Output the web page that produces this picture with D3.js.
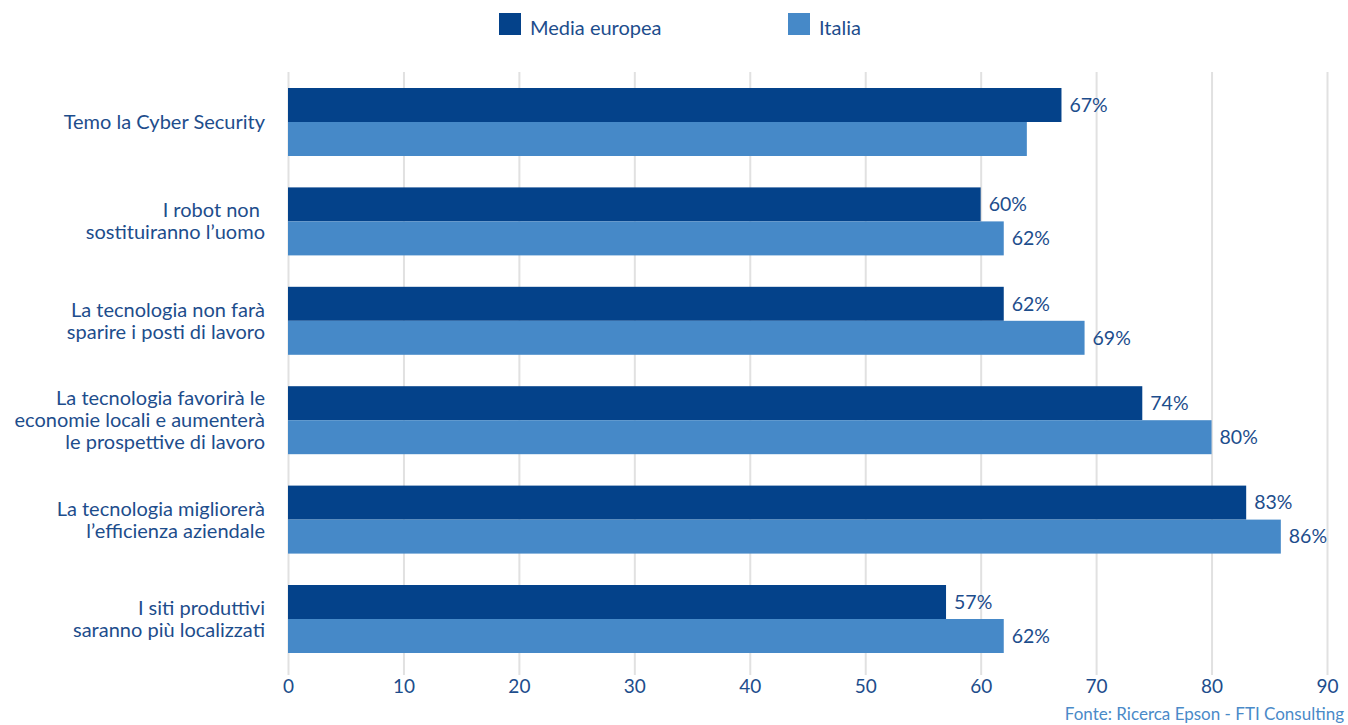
<!DOCTYPE html>
<html>
<head>
<meta charset="utf-8">
<script src="https://cdn.jsdelivr.net/npm/d3@7"></script>
<style>
  body { margin: 0; background: #fff; }
  svg { display: block; font-family: Lato, "Noto Sans", sans-serif; }
</style>
</head>
<body>
<svg id="chart" width="1348" height="725"></svg>
<script>
// categories (one string per line of the label)
const categories = [
  ["Temo la Cyber Security"],
  ["I robot non ", "sostituiranno l\u2019uomo"],
  ["La tecnologia non far\u00e0", "sparire i posti di lavoro"],
  ["La tecnologia favorir\u00e0 le", "economie locali e aumenter\u00e0", "le prospettive di lavoro"],
  ["La tecnologia migliorer\u00e0", "l\u2019efficienza aziendale"],
  ["I siti produttivi", "saranno pi\u00f9 localizzati"]
];
const mediaEuropea = [67, 60, 62, 74, 83, 57];
const italia = [64, 62, 69, 80, 86, 62];
const italiaShowLabel = [false, true, true, true, true, true];
const seriesNames = ["Media europea", "Italia"];
const xTicks = [0, 10, 20, 30, 40, 50, 60, 70, 80, 90];
const source = "Fonte: Ricerca Epson - FTI Consulting";

const colors = ["#04428a", "#4689c8"];
const textColor = "#1d4d8c";

let svg = d3.select("#chart");

let x = d3.scaleLinear().domain([0, 90]).range([288, 1327]);
let y = d3
  .scaleBand()
  .domain(d3.range(categories.length))
  .range([72, 669])
  .paddingInner(0.316)
  .paddingOuter(0.161);
let sub = d3
  .scaleBand()
  .domain([0, 1])
  .range([0, y.bandwidth()]);

// grid + axis
let axis = d3
  .axisBottom(x)
  .tickValues(xTicks)
  .tickSize(-(675 - 72))
  .tickPadding(4);
let gAxis = svg
  .append("g")
  .attr("transform", "translate(0,675)")
  .call(axis);
gAxis.select(".domain").remove();
gAxis.selectAll(".tick line").attr("stroke", "#e1e1e1").attr("stroke-width", 2);
gAxis
  .selectAll(".tick text")
  .attr("fill", textColor)
  .style("font-size", "19px")
  .style("font-family", "Lato, 'Noto Sans', sans-serif");

// bars
let data = categories.map((c, i) => ({
  i: i,
  vals: [mediaEuropea[i], italia[i]],
  show: [true, italiaShowLabel[i]]
}));

let groups = svg
  .selectAll("g.group")
  .data(data)
  .join("g")
  .attr("class", "group")
  .attr("transform", d => `translate(0,${y(d.i)})`);

groups
  .selectAll("rect")
  .data(d => d.vals.map((v, s) => ({ v: v, s: s })))
  .join("rect")
  .attr("x", x(0))
  .attr("y", d => sub(d.s))
  .attr("width", d => x(d.v) - x(0))
  .attr("height", sub.bandwidth())
  .attr("fill", d => colors[d.s]);

groups
  .selectAll("text.val")
  .data(d => d.vals.map((v, s) => ({ v: v, s: s, show: d.show[s] })).filter(d => d.show))
  .join("text")
  .attr("class", "val")
  .attr("x", d => x(d.v) + 8)
  .attr("y", d => sub(d.s) + sub.bandwidth() / 2)
  .attr("dy", "0.35em")
  .attr("fill", textColor)
  .style("font-size", "19.5px")
  .text(d => d.v + "%");

// category labels
groups.each(function (d) {
  let lines = categories[d.i];
  let lh = 22;
  let t = d3
    .select(this)
    .append("text")
    .attr("text-anchor", "end")
    .attr("fill", textColor)
    .style("font-size", "20px")
    .style("white-space", "pre");
  lines.forEach((l, k) => {
    t.append("tspan")
      .attr("x", 265)
      .attr("y", y.bandwidth() / 2 + (k - (lines.length - 1) / 2) * lh)
      .attr("dy", "0.35em")
      .text(l);
  });
});

// legend
let legendX = [499, 788];
let legend = svg
  .selectAll("g.legend")
  .data(seriesNames)
  .join("g")
  .attr("class", "legend")
  .attr("transform", (d, i) => `translate(${legendX[i]},13)`);
legend
  .append("rect")
  .attr("width", 22)
  .attr("height", 22)
  .attr("fill", (d, i) => colors[i]);
legend
  .append("text")
  .attr("x", 31)
  .attr("y", 15)
  .attr("dy", "0.35em")
  .attr("fill", textColor)
  .style("font-size", "20px")
  .text(d => d);

// source
svg
  .append("text")
  .attr("x", 1344)
  .attr("y", 720)
  .attr("text-anchor", "end")
  .attr("fill", "#4a8ac8")
  .style("font-size", "17px")
  .text(source);
</script>
</body>
</html>
